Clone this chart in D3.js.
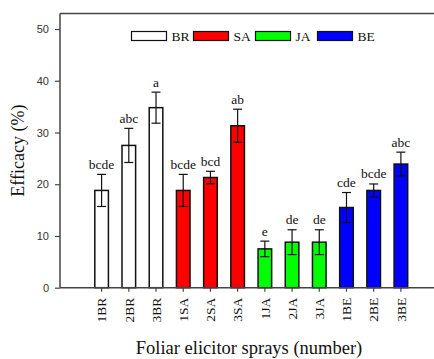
<!DOCTYPE html>
<html>
<head>
<meta charset="utf-8">
<script src="https://cdnjs.cloudflare.com/ajax/libs/d3/7.8.5/d3.min.js"></script>
<style>
  body { margin: 0; background: #fff; }
  svg { display: block; }
  .serif { font-family: "Liberation Serif", "DejaVu Serif", serif; fill: #111; }
  .ytick text { font-family: "Liberation Sans", Arial, sans-serif; font-size: 11px; fill: #333; }
</style>
</head>
<body>
<div id="chart"></div>
<script>
// data
var categories = ["1BR", "2BR", "3BR", "1SA", "2SA", "3SA", "1JA", "2JA", "3JA", "1BE", "2BE", "3BE"];
var groups = ["BR", "BR", "BR", "SA", "SA", "SA", "JA", "JA", "JA", "BE", "BE", "BE"];
var efficacy = [18.8, 27.5, 34.8, 18.8, 21.3, 31.3, 7.5, 8.8, 8.8, 15.5, 18.8, 23.9];
var errors = [3.1, 3.3, 3.0, 3.1, 1.2, 3.2, 1.5, 2.4, 2.4, 2.9, 1.25, 2.3];
var letters = ["bcde", "abc", "a", "bcde", "bcd", "ab", "e", "de", "de", "cde", "bcde", "abc"];
var legendNames = ["BR", "SA", "JA", "BE"];
var legendColors = ["#ffffff", "#ff0000", "#00ff00", "#0000ff"];
var yTicks = [0, 10, 20, 30, 40, 50];

var width = 434, height = 359;
var plotLeft = 60, plotTop = 13.5, plotBottom = 287.7;

var svg = d3.select("#chart")
  .append("svg")
  .attr("width", width)
  .attr("height", height);

var color = d3.scaleOrdinal().domain(legendNames).range(legendColors);

var y = d3.scaleLinear().domain([0, 53]).range([plotBottom, plotTop]);

var x = d3.scaleBand()
  .domain(categories)
  .range([88, 414.5])
  .paddingInner(0.5)
  .paddingOuter(0.25);

// frame: top line
svg.append("line")
  .attr("x1", plotLeft).attr("x2", width)
  .attr("y1", plotTop).attr("y2", plotTop)
  .attr("stroke", "#444").attr("stroke-width", 1.5);

// y axis
var yAxis = svg.append("g")
  .attr("class", "ytick")
  .attr("transform", "translate(" + plotLeft + ",0)")
  .call(d3.axisLeft(y).tickValues(yTicks).tickSize(5).tickPadding(6).tickSizeOuter(0));
yAxis.select(".domain").attr("stroke", "#444").attr("stroke-width", 1.5)
  .attr("d", "M0," + plotTop + "V" + plotBottom);
yAxis.selectAll(".tick line").attr("stroke", "#444").attr("stroke-width", 1.2);

// bars
var bars = svg.append("g").selectAll("g")
  .data(categories)
  .enter().append("g");

bars.append("rect")
  .attr("x", function(d) { return x(d); })
  .attr("y", function(d, i) { return y(efficacy[i]); })
  .attr("width", x.bandwidth())
  .attr("height", function(d, i) { return y(0) - y(efficacy[i]); })
  .attr("fill", function(d, i) { return color(groups[i]); })
  .attr("stroke", "#111")
  .attr("stroke-width", 1.5);

// error bars
var cx = function(d) { return x(d) + x.bandwidth() / 2; };
bars.append("line")
  .attr("x1", cx).attr("x2", cx)
  .attr("y1", function(d, i) { return y(efficacy[i] + errors[i]); })
  .attr("y2", function(d, i) { return y(efficacy[i] - errors[i]); })
  .attr("stroke", "#111").attr("stroke-width", 1.2);
[1, -1].forEach(function(s) {
  bars.append("line")
    .attr("x1", function(d) { return cx(d) - 4.5; })
    .attr("x2", function(d) { return cx(d) + 4.5; })
    .attr("y1", function(d, i) { return y(efficacy[i] + s * errors[i]); })
    .attr("y2", function(d, i) { return y(efficacy[i] + s * errors[i]); })
    .attr("stroke", "#111").attr("stroke-width", 1.2);
});

// significance letters
bars.append("text")
  .attr("class", "serif")
  .attr("x", cx)
  .attr("y", function(d, i) { return y(efficacy[i] + errors[i]) - 5.5; })
  .attr("text-anchor", "middle")
  .attr("font-size", "13.5px")
  .text(function(d, i) { return letters[i]; });

// x axis
var xAxis = svg.append("g")
  .attr("transform", "translate(0," + plotBottom + ")")
  .call(d3.axisBottom(x).tickSize(4).tickPadding(5).tickSizeOuter(0));
xAxis.select(".domain").attr("stroke", "#444").attr("stroke-width", 1.5)
  .attr("d", "M" + plotLeft + ",0H" + width);
xAxis.selectAll(".tick line").attr("stroke", "#444").attr("stroke-width", 1.2);
xAxis.selectAll(".tick text")
  .attr("class", "serif")
  .attr("font-family", null)
  .attr("font-size", "13.5px")
  .attr("transform", "rotate(-90)")
  .attr("text-anchor", "end")
  .attr("x", -10)
  .attr("y", 0)
  .attr("dy", "0.35em");

// legend
var legend = svg.append("g").selectAll("g")
  .data(legendNames)
  .enter().append("g")
  .attr("transform", function(d, i) { return "translate(" + (131.5 + i * 62) + ",31.5)"; });
legend.append("rect")
  .attr("width", 35).attr("height", 9)
  .attr("fill", function(d) { return color(d); })
  .attr("stroke", "#111").attr("stroke-width", 1.2);
legend.append("text")
  .attr("class", "serif")
  .attr("x", 40).attr("y", 9.5)
  .attr("font-size", "13.5px")
  .text(function(d) { return d; });

// axis titles
svg.append("text")
  .attr("class", "serif")
  .attr("transform", "translate(24," + ((plotTop + plotBottom) / 2) + ") rotate(-90)")
  .attr("text-anchor", "middle")
  .attr("font-size", "18px")
  .text("Efficacy (%)");

svg.append("text")
  .attr("class", "serif")
  .attr("x", 249).attr("y", 354)
  .attr("text-anchor", "middle")
  .attr("font-size", "18.5px")
  .text("Foliar elicitor sprays (number)");
</script>
</body>
</html>
